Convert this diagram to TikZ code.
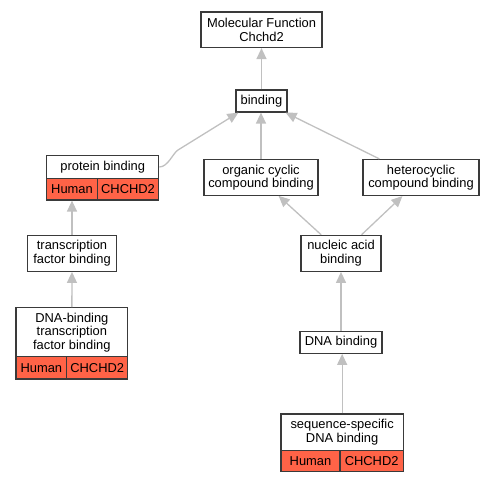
\documentclass[tikz,border=0pt]{standalone}
\usepackage{fontspec}
\setmainfont{Liberation Sans}
\usetikzlibrary{arrows.meta,calc}
\definecolor{edgec}{HTML}{C0C0C0}
\definecolor{boxc}{HTML}{3A3A3A}
\definecolor{hum}{HTML}{FF6347}
\begin{document}
\begin{tikzpicture}[x=1pt,y=-1pt,
  box/.style={draw=boxc,line width=1.2pt,fill=white,inner sep=0pt,align=center,
    font=\fontsize{12.9}{13.5}\selectfont},
  cell/.style={draw=boxc,line width=1.2pt,fill=hum,inner sep=0pt,
    font=\fontsize{12.9}{13.5}\selectfont},
  edge/.style={draw=edgec,line width=1.3pt,-{Triangle[length=11pt,width=10pt]}}]
\useasboundingbox (0,0) rectangle (495,483);
% nodes
\node[box,minimum width=121pt,minimum height=35.5pt] (mf) at (261.5,29.75) {Molecular Function\\Chchd2};
\node[box,minimum width=51pt,minimum height=22pt] (binding) at (261.5,101) {binding};
\node[box,minimum width=112pt,minimum height=22.6pt] (pb) at (102.7,167) {protein binding};
\node[cell,minimum width=50.6pt,minimum height=21.7pt] (pbh) at (72,189.15) {Human};
\node[cell,minimum width=61.4pt,minimum height=21.7pt] (pbc) at (128,189.15) {CHCHD2};
\node[box,minimum width=114pt,minimum height=35.5pt] (ocb) at (261,177.5) {organic cyclic\\compound binding};
\node[box,minimum width=116pt,minimum height=36pt] (hcb) at (421,177.5) {heterocyclic\\compound binding};
\node[box,minimum width=89pt,minimum height=36pt] (tfb) at (72,253.3) {transcription\\factor binding};
\node[box,minimum width=80pt,minimum height=36pt] (nab) at (341,253.3) {nucleic acid\\binding};
\node[box,minimum width=111.7pt,minimum height=49pt] (dtf) at (71.85,332.2) {DNA-binding\\transcription\\factor binding};
\node[cell,minimum width=50.7pt,minimum height=22.3pt] (dtfh) at (41.35,367.85) {Human};
\node[cell,minimum width=61pt,minimum height=22.3pt] (dtfc) at (97.2,367.85) {CHCHD2};
\node[box,minimum width=82pt,minimum height=22pt] (dna) at (341,342.3) {DNA binding};
\node[box,minimum width=122.3pt,minimum height=36.7pt] (ssd) at (342.15,432.35) {sequence-specific\\DNA binding};
\node[cell,minimum width=59pt,minimum height=21pt] (ssdh) at (310.5,461.2) {Human};
\node[cell,minimum width=63.3pt,minimum height=21pt] (ssdc) at (371.65,461.2) {CHCHD2};
% edges
\draw[edge] (binding.north) -- (mf.south);
\draw[edge] (ocb.north) -- (ocb.north |- binding.south);
\draw[edge] ($(hcb.north west)+(17,0)$) -- ($(binding.south east)+(-2,0)$);
\draw[edge] (pb.east) .. controls (168,167) and (173,153) .. (178,150) -- ($(binding.south west)+(3,0)$);
\draw[edge] (tfb.north) -- (pbh.south);
\draw[edge] (dtf.north) -- (tfb.south);
\draw[edge] ($(nab.north west)+(20.7,0)$) -- ($(ocb.south east)+(-40,0)$);
\draw[edge] ($(nab.north east)+(-20,0)$) -- ($(hcb.south west)+(40,0)$);
\draw[edge] (dna.north) -- (nab.south);
\draw[edge] (ssd.north) -- (ssd.north |- dna.south);
\end{tikzpicture}
\end{document}
